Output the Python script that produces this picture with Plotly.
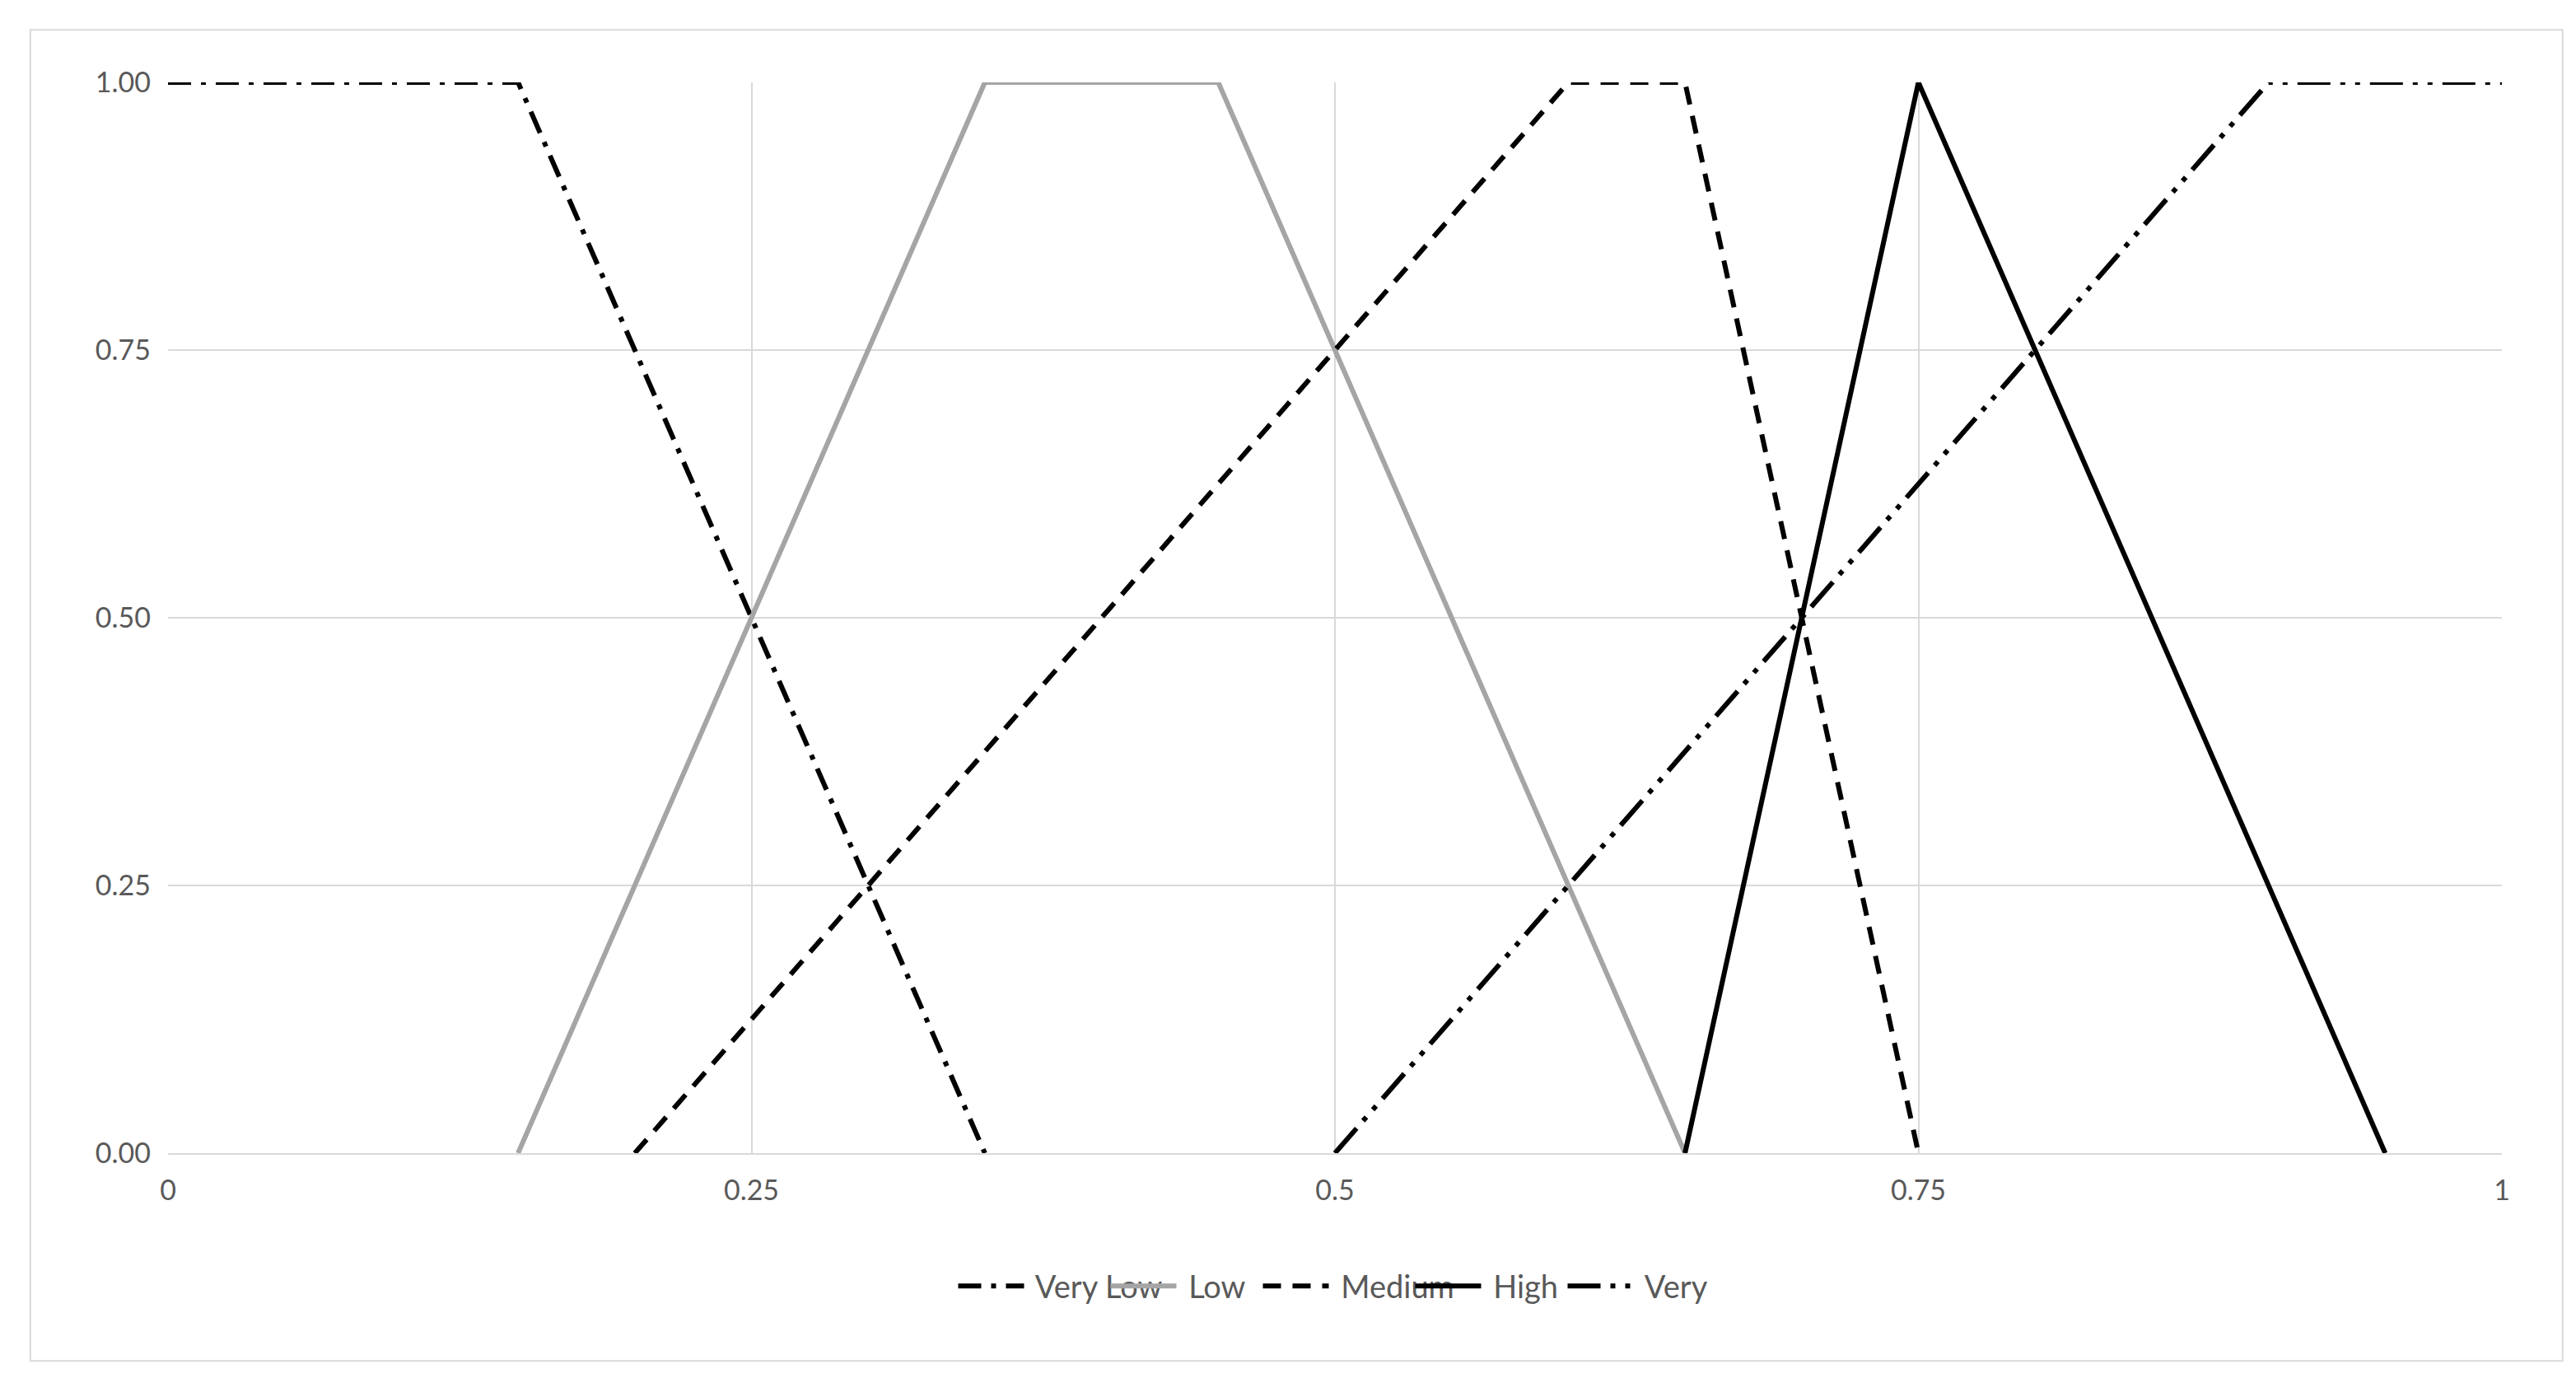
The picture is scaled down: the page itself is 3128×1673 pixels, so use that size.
import plotly.graph_objects as go

vl_x = [0, 0.15, 0.35]; vl_y = [1, 1, 0]
lo_x = [0.15, 0.35, 0.45, 0.65]; lo_y = [0, 1, 1, 0]
me_x = [0.2, 0.6, 0.65, 0.75]; me_y = [0, 1, 1, 0]
hi_x = [0.65, 0.75, 0.95]; hi_y = [0, 1, 0]
vh_x = [0.5, 0.9, 1]; vh_y = [0, 1, 1]
xticks = [0, 0.25, 0.5, 0.75, 1]
xlabels = ["0", "0.25", "0.5", "0.75", "1"]
yticks = [0, 0.25, 0.5, 0.75, 1]
ylabels = ["0.00", "0.25", "0.50", "0.75", "1.00"]

W = 6
fig = go.Figure()
fig.add_trace(go.Scatter(x=vl_x, y=vl_y, mode="lines", name=" Very Low",
    line=dict(color="black", width=W, dash="28px,12px,6px,12px")))
fig.add_trace(go.Scatter(x=lo_x, y=lo_y, mode="lines", name=" Low",
    line=dict(color="#a5a5a5", width=W)))
fig.add_trace(go.Scatter(x=me_x, y=me_y, mode="lines", name=" Medium",
    line=dict(color="black", width=W, dash="22px,14px")))
fig.add_trace(go.Scatter(x=hi_x, y=hi_y, mode="lines", name=" High",
    line=dict(color="black", width=W)))
fig.add_trace(go.Scatter(x=vh_x, y=vh_y, mode="lines", name=" Very High",
    line=dict(color="black", width=W, dash="40px,12px,6px,12px,6px,12px")))

fig.update_layout(
    width=3128, height=1673, paper_bgcolor="white", plot_bgcolor="white",
    margin=dict(l=196, r=98, t=92, b=281),
    font=dict(family="Lato, Open Sans, sans-serif", size=34, color="#595959"),
    legend=dict(orientation="h", x=0.5, xanchor="center", y=-0.1, yanchor="top",
                font=dict(size=38), itemwidth=80, entrywidth=90,
                entrywidthmode="pixels"),
    xaxis=dict(range=[0, 1], tickvals=xticks, ticktext=xlabels, showgrid=True,
               gridcolor="#d9d9d9", gridwidth=2, zeroline=False, showline=True,
               linecolor="#d9d9d9", linewidth=2, ticks="", ticklabelstandoff=14),
    yaxis=dict(range=[0, 1], tickvals=yticks, ticktext=ylabels, showgrid=True,
               gridcolor="#d9d9d9", gridwidth=2, zeroline=False, showline=False,
               ticks="", ticklabelstandoff=20),
    shapes=[dict(type="rect", xref="paper", yref="paper", x0=-0.059, x1=1.026,
                 y0=-0.194, y1=1.049, line=dict(color="#d9d9d9", width=2))],
)
fig.write_html("out.html")
